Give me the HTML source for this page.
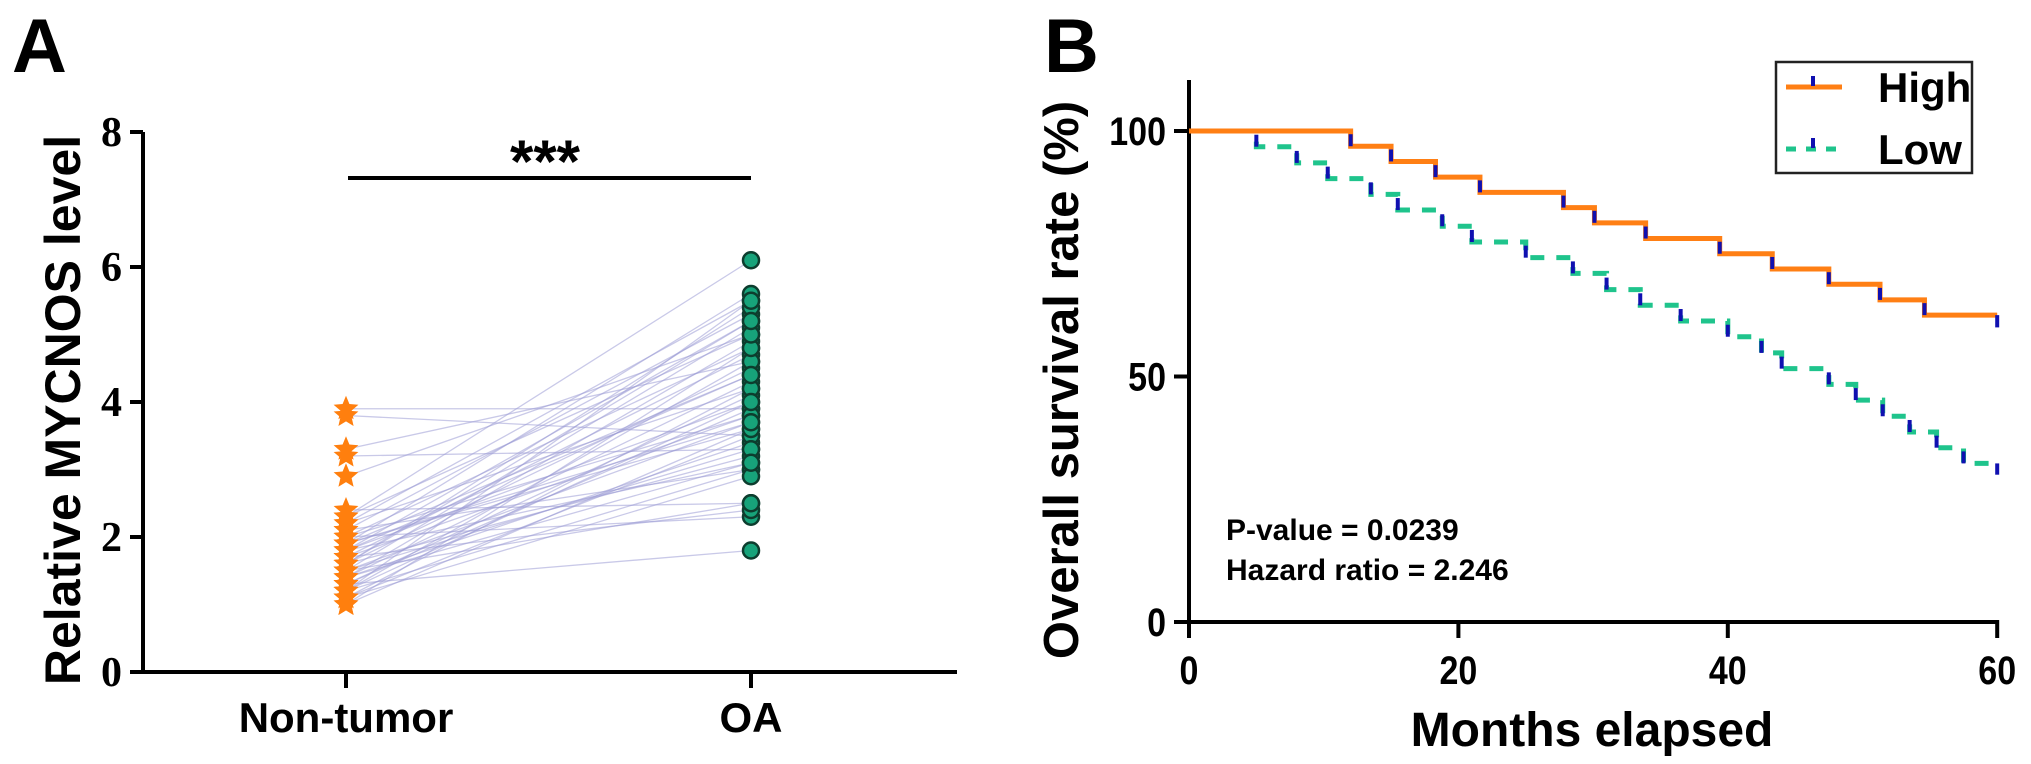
<!DOCTYPE html>
<html><head><meta charset="utf-8"><style>
html,body{margin:0;padding:0;background:#fff;}
svg{display:block;}
text{font-family:"Liberation Sans",Arial,sans-serif;font-weight:bold;fill:#000;}
</style></head><body>
<svg id="fig" width="2031" height="764" viewBox="0 0 2031 764" xmlns="http://www.w3.org/2000/svg">
<g id="panelA"></g>
<g id="panelB"></g>
</svg>
<script>
// ---------- Panel A data ----------
const groupsA = ["Non-tumor", "OA"];
const yTicksA = [0, 2, 4, 6, 8];
const nonTumor = [3.9,3.8,3.3,3.2,2.9,2.4,2.3,2.2,2.2,2.1,2.1,2.0,2.0,1.9,1.9,1.9,1.8,1.8,1.8,1.7,1.7,1.7,1.6,1.6,1.6,1.5,1.5,1.5,1.4,1.4,1.4,1.3,1.3,1.3,1.2,1.2,1.2,1.1,1.1,1.1,1.0,1.0,2.3,1.5,1.8,2.0,1.4,1.2,1.6,1.9];
const oaVals   = [3.9,3.5,4.6,3.3,5.0,2.5,6.1,5.5,4.2,3.0,5.3,4.8,2.3,5.6,3.6,4.4,3.1,5.2,4.0,2.4,4.7,3.8,5.4,3.2,4.5,2.5,3.7,5.1,4.3,3.4,4.9,1.8,4.1,3.9,5.5,3.0,4.6,3.5,4.2,2.9,3.6,4.8,5.0,3.3,4.4,3.8,3.1,4.0,5.2,3.7];
const sigLabel = "***";

// ---------- Panel B data ----------
const xTicksB = [0, 20, 40, 60];
const yTicksB = [0, 50, 100];
const highTimes = [0, 12, 15, 18.3, 21.6, 27.8, 30.1, 33.9, 39.4, 43.3, 47.5, 51.3, 54.6];
const highSurv  = [100, 96.9, 93.8, 90.6, 87.5, 84.4, 81.3, 78.1, 75.0, 71.9, 68.8, 65.6, 62.5];
const lowTimes  = [0, 5, 8, 10.3, 13.5, 15.5, 18.8, 21, 25, 28.5, 31, 33.5, 36.5, 40, 42.5, 44, 47.5, 49.5, 51.5, 53.5, 55.5, 57.5];
const lowSurv   = [100, 96.8, 93.5, 90.3, 87.1, 83.9, 80.6, 77.4, 74.2, 71.0, 67.7, 64.5, 61.3, 58.1, 54.8, 51.6, 48.4, 45.2, 41.9, 38.7, 35.5, 32.3];
const endTime = 60;
const endCensorHigh = 60;
const endCensorLow = 30;

const NS = "http://www.w3.org/2000/svg";
function mk(parent, tag, attrs, txt){
  const e = document.createElementNS(NS, tag);
  for (const k in attrs) e.setAttribute(k, attrs[k]);
  if (txt !== undefined) e.textContent = txt;
  parent.appendChild(e);
  return e;
}

// ---------- Panel A ----------
(function(){
  const g = document.getElementById('panelA');
  const yA = v => 672 - 67.5 * v;
  const xA = i => [346, 751][i];
  let t = mk(g,'text',{x:12,y:72,'font-size':76});
  t.textContent = 'A';
  
  
  const lg = mk(g,'g',{});
  
  
  for (let i=0;i<nonTumor.length;i++){
    const l = mk(lg,'line',{x1:xA(0),y1:yA(nonTumor[i]),x2:xA(1),y2:yA(oaVals[i]),stroke:'#9c9cd6','stroke-width':1.3,'stroke-opacity':0.55});
    
    
  }
  const ax = mk(g,'path',{d:`M143 ${yA(8)} V674 M130 ${yA(8)} H143 M130 ${yA(6)} H143 M130 ${yA(4)} H143 M130 ${yA(2)} H143 M130 ${yA(0)} H957 M${xA(0)} 672 V688 M${xA(1)} 672 V688`,stroke:'#000','stroke-width':4,fill:'none'});
  
  
  yTicksA.forEach(v=>{
    const tt = mk(g,'text',{x:122,y:yA(v)+14,'text-anchor':'end','font-size':42,style:'font-family:"Liberation Serif",serif'}, String(v));
    
    
  });
  groupsA.forEach((c,i)=>{
    const tt = mk(g,'text',{x:xA(i),y:732,'text-anchor':'middle','font-size':42}, c);
    
    
  });
  const yl = mk(g,'text',{x:0,y:0,'text-anchor':'middle','font-size':50,transform:'translate(80 410) rotate(-90)'}, 'Relative MYCNOS level');
  
  
  const sb = mk(g,'line',{x1:348,y1:178,x2:751,y2:178,stroke:'#000','stroke-width':4});
  
  
  const st = mk(g,'text',{x:545,y:182,'text-anchor':'middle','font-size':60}, sigLabel);
  
  
  function starPath(cx,cy,r){
    let d='';
    for(let k=0;k<10;k++){
      const rr = k%2? r*0.45 : r;
      const a = -Math.PI/2 + k*Math.PI/5;
      d += (k?'L':'M') + (cx+rr*Math.cos(a)).toFixed(1)+' '+(cy+rr*Math.sin(a)).toFixed(1);
    }
    return d+'Z';
  }
  nonTumor.forEach(v=>{
    const s = mk(g,'path',{d:starPath(xA(0),yA(v),13),fill:'#ff7f0e'});
    
    
  });
  oaVals.forEach(v=>{
    const c = mk(g,'circle',{cx:xA(1),cy:yA(v),r:8,fill:'#17a37a',stroke:'#0d3d2e','stroke-width':2.5});
    
    
  });
})();

// ---------- Panel B ----------
(function(){
  const g = document.getElementById('panelB');
  const xB = t => 1189 + 13.47 * t;
  const yB = p => 622 - 4.91 * p;
  let t = mk(g,'text',{x:1044,y:72,'font-size':76}, 'B');
  
  
  const ax = mk(g,'path',{d:`M1189 80 V624 M1174 ${yB(100)} H1189 M1174 ${yB(50)} H1189 M1174 ${yB(0)} H${xB(60)+2} M${xB(0)} 622 V638 M${xB(20)} 622 V638 M${xB(40)} 622 V638 M${xB(60)} 622 V638`,stroke:'#000','stroke-width':4,fill:'none'});
  
  
  yTicksB.forEach(v=>{
    const tt = mk(g,'text',{x:1166,y:yB(v)+14,'text-anchor':'end','font-size':40,transform:`translate(1166 0) scale(0.85 1) translate(-1166 0)`}, String(v));
    
    
  });
  xTicksB.forEach(v=>{
    const tt = mk(g,'text',{x:xB(v),y:684,'text-anchor':'middle','font-size':40,transform:`translate(${xB(v)} 0) scale(0.85 1) translate(${-xB(v)} 0)`}, String(v));
    
    
  });
  const xl = mk(g,'text',{x:1592,y:746,'text-anchor':'middle','font-size':48}, 'Months elapsed');
  
  
  const yl = mk(g,'text',{x:0,y:0,'text-anchor':'middle','font-size':49,transform:'translate(1078 380) rotate(-90)'}, 'Overall survival rate (%)');
  
  
  const p1 = mk(g,'text',{x:1226,y:540,'font-size':30}, 'P-value = 0.0239');
  
  
  const p2 = mk(g,'text',{x:1226,y:580,'font-size':30}, 'Hazard  ratio = 2.246');
  
  

  function stepPath(times, surv){
    let d = `M${xB(times[0])} ${yB(surv[0])}`;
    for(let i=1;i<times.length;i++){
      d += ` H${xB(times[i])} V${yB(surv[i])}`;
    }
    d += ` H${xB(endTime)}`;
    return d;
  }
  function censors(times, surv, endVal, name){
    const cg = mk(g,'g',{});
    
    
    for(let i=1;i<times.length;i++){
      const c = mk(cg,'line',{x1:xB(times[i]),y1:yB(surv[i])-12,x2:xB(times[i]),y2:yB(surv[i]),stroke:'#1010b0','stroke-width':4});
      
      
    }
    const c = mk(cg,'line',{x1:xB(endTime),y1:yB(surv[surv.length-1]),x2:xB(endTime),y2:yB(endVal),stroke:'#1010b0','stroke-width':4});
    
    
  }
  const lo = mk(g,'path',{d:stepPath(lowTimes,lowSurv),stroke:'#1fc48c','stroke-width':5,fill:'none','stroke-dasharray':'14 12'});
  
  
  const hi = mk(g,'path',{d:stepPath(highTimes,highSurv),stroke:'#ff7f14','stroke-width':5,fill:'none'});
  
  
  censors(highTimes, highSurv, endCensorHigh, 'high-censor-marks');
  censors(lowTimes, lowSurv, endCensorLow, 'low-censor-marks');

  const lgd = mk(g,'g',{});
  
  
  const box = mk(lgd,'rect',{x:1776,y:62,width:196,height:111,fill:'#fff',stroke:'#222','stroke-width':2.5});
  
  
  const e1 = mk(lgd,'g',{});
  
  
  mk(e1,'line',{x1:1786,y1:87,x2:1842,y2:87,stroke:'#ff7f14','stroke-width':5});
  mk(e1,'line',{x1:1813,y1:76,x2:1813,y2:86,stroke:'#1010b0','stroke-width':4});
  mk(e1,'text',{x:1878,y:102,'font-size':42}, 'High');
  const e2 = mk(lgd,'g',{});
  
  
  mk(e2,'line',{x1:1786,y1:149,x2:1842,y2:149,stroke:'#1fc48c','stroke-width':5,'stroke-dasharray':'10 10'});
  mk(e2,'line',{x1:1813,y1:138,x2:1813,y2:148,stroke:'#1010b0','stroke-width':4});
  mk(e2,'text',{x:1878,y:164,'font-size':42}, 'Low');
})();
</script>
</body></html>
